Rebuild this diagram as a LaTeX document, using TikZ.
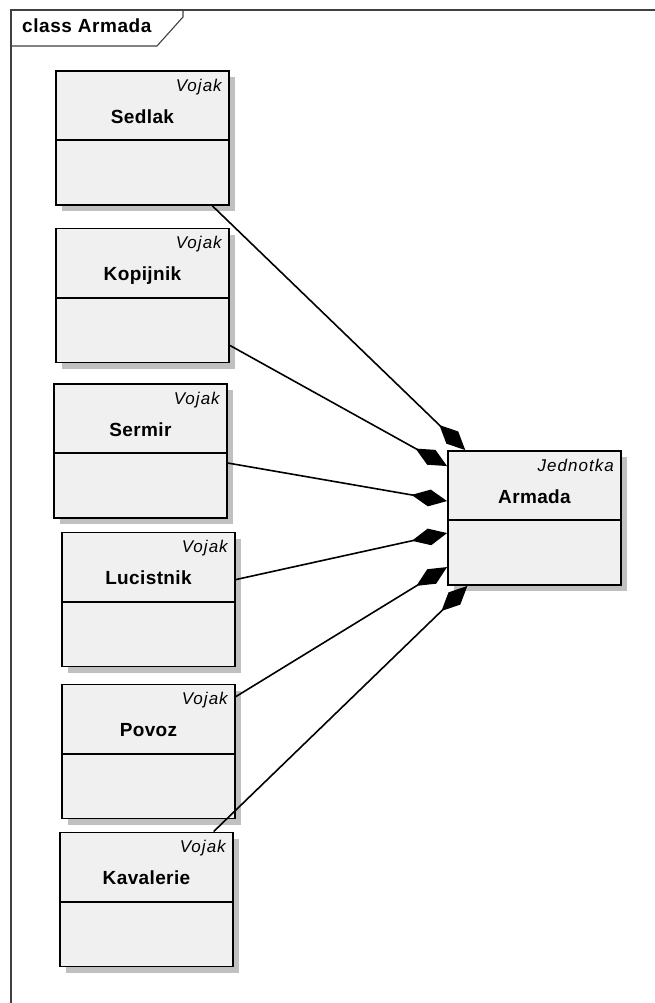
\documentclass[tikz,border=0pt]{standalone}
\usepackage{fontspec}
\newfontfamily\uifont{Liberation Sans}
\usetikzlibrary{arrows.meta,calc,shadows}
\definecolor{boxfill}{HTML}{F0F0F0}
\definecolor{boxshadow}{HTML}{C0C0C0}
\definecolor{framecol}{HTML}{404040}

% one UML class: #1 name, #2 centre, #3 stereotype, #4 class name
\newcommand\umlclass[4]{%
  \node[cls] (#1) at #2 {};
  \draw[divider] ($(#1.north west)+(0,70)$) -- ($(#1.north east)+(0,70)$);
  \node[stereo] (#1-st) at ($(#1.north east)+(-8,21)$) {#3};
  \node[ctitle] (#1-tt) at ($(#1.north)+(0,53)$) {#4};
}

\begin{document}
\begin{tikzpicture}[x=1pt,y=-1pt,
  cls/.style={draw=black, line width=1.9pt, fill=boxfill,
    minimum width=173pt, minimum height=134pt, inner sep=0pt,
    drop shadow={shadow xshift=6pt, shadow yshift=-6pt,
      fill=boxshadow, opacity=1}},
  divider/.style={line width=1.9pt},
  stereo/.style={anchor=base east, inner sep=0pt,
    font=\uifont\itshape\fontsize{17}{20}\selectfont\addfontfeatures{LetterSpace=6}},
  ctitle/.style={anchor=base, inner sep=0pt,
    font=\uifont\bfseries\fontsize{19}{22}\selectfont\addfontfeatures{LetterSpace=2}},
  comp/.style={line width=1.6pt, -{Diamond[length=36pt,width=17pt]}},
  framel/.style={draw=framecol, line width=1.1pt}]

\useasboundingbox[fill=white] (0,0) rectangle (655,1003);

% diagram frame with its name tab
\draw[framel] (655,10) -- (11,10) -- (11,1003);
\draw[framel] (11,46) -- (157,46) -- (183,17) -- (183,10);
\node[anchor=base west, inner sep=0pt,
  font=\uifont\bfseries\fontsize{19}{22}\selectfont\addfontfeatures{LetterSpace=3}]
  (frametitle) at (22,33) {class Armada};

% classes
\umlclass{sed}{(142.5,138)}{Vojak}{Sedlak}
\umlclass{kop}{(142.5,295.5)}{Vojak}{Kopijnik}
\umlclass{ser}{(140.5,451)}{Vojak}{Sermir}
\umlclass{luc}{(148.5,599.5)}{Vojak}{Lucistnik}
\umlclass{pov}{(148.5,751.5)}{Vojak}{Povoz}
\umlclass{kav}{(146.5,899.5)}{Vojak}{Kavalerie}
\umlclass{arm}{(534.5,518)}{Jednotka}{Armada}

% compositions into Armada
\draw[comp] ($(sed.south west)!0.90!(sed.south east)$) -- ($(arm.north west)!0.104!(arm.north east)$);
\draw[comp] ($(kop.south east)+(0,-18)$) -- ($(arm.north west)+(0,16)$);
\draw[comp] ($(ser.north east)+(0,80)$) -- ($(arm.north west)+(0,51)$);
\draw[comp] ($(luc.north east)+(0,48)$) -- ($(arm.north west)+(0,83)$);
\draw[comp] ($(pov.north east)+(0,13)$) -- ($(arm.north west)+(0,117)$);
\draw[comp] ($(kav.north west)!0.884!(kav.north east)$) -- ($(arm.south west)!0.116!(arm.south east)$);

\end{tikzpicture}
\end{document}
